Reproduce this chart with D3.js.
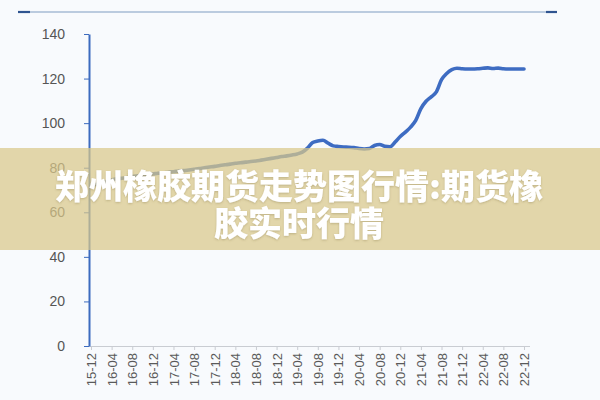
<!DOCTYPE html>
<html><head><meta charset="utf-8">
<script src="https://cdn.jsdelivr.net/npm/d3@7"></script>
<style>
html,body{margin:0;padding:0;background:#f8fafd;}
svg{display:block;}
</style></head>
<body><svg id="c" width="600" height="400"></svg>
<script>
const months = ["15-12",
"16-01","16-02","16-03","16-04","16-05","16-06","16-07","16-08","16-09","16-10","16-11","16-12",
"17-01","17-02","17-03","17-04","17-05","17-06","17-07","17-08","17-09","17-10","17-11","17-12",
"18-01","18-02","18-03","18-04","18-05","18-06","18-07","18-08","18-09","18-10","18-11","18-12",
"19-01","19-02","19-03","19-04","19-05","19-06","19-07","19-08","19-09","19-10","19-11","19-12",
"20-01","20-02","20-03","20-04","20-05","20-06","20-07","20-08","20-09","20-10","20-11","20-12",
"21-01","21-02","21-03","21-04","21-05","21-06","21-07","21-08","21-09","21-10","21-11","21-12",
"22-01","22-02","22-03","22-04","22-05","22-06","22-07","22-08","22-09","22-10","22-11","22-12"];
const values = [72,
72.5,73,73.8,74.5,75,75.3,75.6,76,76.4,76.6,77,77.2,
77.5,77.6,78,78.2,78.5,78.7,79,79.3,79.6,80,80.3,80.6,
81,81.3,81.6,82,82.2,82.5,82.8,83,83.4,83.8,84.2,84.6,
85,85.3,85.7,86.2,87,88.8,91.3,92,92.3,91,89.8,89.5,
89.3,89.2,89,88.6,88.4,88.6,90,90.4,89.6,89.4,91.5,94,
96,98.2,101.2,106.5,109.8,111.8,114,119.5,122.3,124,124.6,124.4,
124.3,124.3,124.4,124.6,124.8,124.5,124.7,124.4,124.3,124.3,124.3,124.3];
const tickLabels = ["15-12","16-04","16-08","16-12","17-04","17-08","17-12","18-04","18-08","18-12","19-04","19-08","19-12","20-04","20-08","20-12","21-04","21-08","21-12","22-04","22-08","22-12"];
const yTicks = [0,20,40,60,80,100,120,140];
const titleLines = ["郑州橡胶期货走势图行情:期货橡","胶实时行情"];

const svg = d3.select("#c");
const x = d3.scaleLinear().domain([0, months.length-1]).range([91, 524]);
const y = d3.scaleLinear().domain([0, 140]).range([346, 34]);

// top rule
svg.append("line").attr("x1",18).attr("x2",557).attr("y1",12).attr("y2",12)
  .attr("stroke","#7f9cc2").attr("stroke-width",1.2);
svg.append("line").attr("x1",18).attr("x2",30).attr("y1",12).attr("y2",12)
  .attr("stroke","#2f5490").attr("stroke-width",2.2);
svg.append("line").attr("x1",546).attr("x2",557).attr("y1",12).attr("y2",12)
  .attr("stroke","#2f5490").attr("stroke-width",2.2);

// x axis
const xAxis = d3.axisBottom(x)
  .tickValues(tickLabels.map(t => months.indexOf(t)))
  .tickFormat(i => months[i]).tickSize(4).tickSizeOuter(0);
const gx = svg.append("g").attr("transform","translate(0,346)").call(xAxis);
gx.select(".domain").attr("stroke","#c9ccd2").attr("d","M89,0.5H530");
gx.selectAll(".tick line").attr("stroke","#c9ccd2");
gx.selectAll(".tick text")
  .attr("font-family","Liberation Sans, Arial, sans-serif").attr("font-size",13)
  .attr("fill","#5a5a5a").attr("transform","rotate(-90)")
  .attr("text-anchor","end").attr("x",-7).attr("y",0).attr("dy","0.35em");

// y axis
const yAxis = d3.axisLeft(y).tickValues(yTicks).tickSize(5).tickSizeOuter(0);
const gy = svg.append("g").attr("transform","translate(89,0)").call(yAxis);
gy.select(".domain").attr("stroke","#3c6bbf").attr("stroke-width",2);
gy.selectAll(".tick line").attr("stroke","#3c6bbf");
gy.selectAll(".tick text")
  .attr("font-family","Liberation Sans, Arial, sans-serif").attr("font-size",14)
  .attr("fill","#555").attr("x",-24);

// line
const line = d3.line().x((d,i) => x(i)).y(d => y(d)).curve(d3.curveMonotoneX);
svg.append("path").datum(values).attr("d", line)
  .attr("fill","none").attr("stroke","#3e6cc2").attr("stroke-width",3.6)
  .attr("stroke-linejoin","round").attr("stroke-linecap","round");

// overlay band
svg.append("rect").attr("x",0).attr("y",148).attr("width",600).attr("height",102)
  .attr("fill","#dac889").attr("fill-opacity",0.72);

const defs = svg.append("defs");
const f = defs.append("filter").attr("id","sh").attr("x","-10%").attr("y","-10%").attr("width","120%").attr("height","130%");
f.append("feDropShadow").attr("dx",0).attr("dy",1).attr("stdDeviation",1.2)
  .attr("flood-color","#7a6a3a").attr("flood-opacity",0.35);

svg.append("g").selectAll("text").data(titleLines).join("text")
  .attr("x",299).attr("y",(d,i) => 199 + i*37)
  .attr("text-anchor","middle")
  .attr("font-family","Noto Sans CJK SC, sans-serif").attr("font-weight",900)
  .attr("font-size",34).attr("fill","#ffffff").attr("filter","url(#sh)")
  .text(d => d);
</script></body></html>
